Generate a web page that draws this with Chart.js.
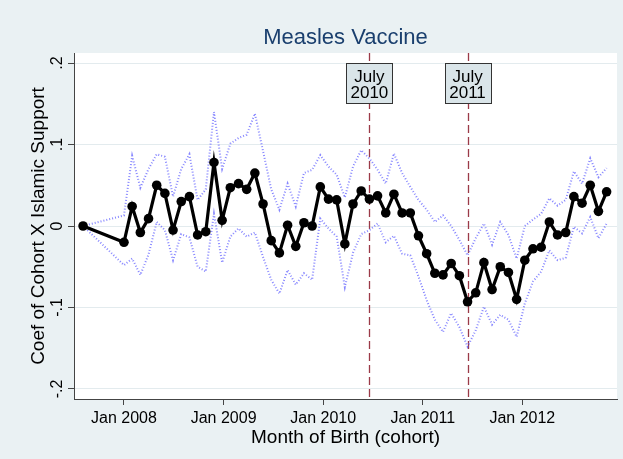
<!DOCTYPE html>
<html>
<head>
<meta charset="utf-8">
<script src="https://cdn.jsdelivr.net/npm/chart.js@4/dist/chart.umd.min.js"></script>
<style>
  html, body { margin: 0; padding: 0; background: #eaf1f3; }
  #wrap { width: 623px; height: 459px; position: relative; }
</style>
</head>
<body>
<div id="wrap"><canvas id="c" width="623" height="459"></canvas></div>
<script>
// Birth cohorts (year m month); the first one is the omitted reference month
const cohorts = [
  "2007m8",
  "2008m1","2008m2","2008m3","2008m4","2008m5","2008m6","2008m7","2008m8","2008m9","2008m10","2008m11","2008m12",
  "2009m1","2009m2","2009m3","2009m4","2009m5","2009m6","2009m7","2009m8","2009m9","2009m10","2009m11","2009m12",
  "2010m1","2010m2","2010m3","2010m4","2010m5","2010m6","2010m7","2010m8","2010m9","2010m10","2010m11","2010m12",
  "2011m1","2011m2","2011m3","2011m4","2011m5","2011m6","2011m7","2011m8","2011m9","2011m10","2011m11","2011m12",
  "2012m1","2012m2","2012m3","2012m4","2012m5","2012m6","2012m7","2012m8","2012m9","2012m10","2012m11","2012m12"
];

// Coefficient on cohort x Islamic support
const coef = [
  0,
  -0.020, 0.024, -0.008, 0.009, 0.050, 0.040, -0.005, 0.030, 0.036, -0.011, -0.007, 0.078,
  0.007, 0.047, 0.052, 0.045, 0.065, 0.027, -0.018, -0.033, 0.001, -0.025, 0.004, 0.000,
  0.048, 0.033, 0.032, -0.022, 0.027, 0.043, 0.033, 0.037, 0.016, 0.039, 0.016, 0.016,
  -0.012, -0.034, -0.058, -0.060, -0.046, -0.061, -0.093, -0.082, -0.045, -0.078, -0.050, -0.057,
  -0.090, -0.042, -0.028, -0.026, 0.005, -0.011, -0.008, 0.036, 0.028, 0.050, 0.018, 0.042
];

// Upper bound of the confidence interval
const ciUpper = [
  0,
  0.013, 0.086, 0.047, 0.070, 0.088, 0.085, 0.036, 0.070, 0.088, 0.032, 0.045, 0.140,
  0.070, 0.101, 0.108, 0.112, 0.138, 0.092, 0.045, 0.020, 0.052, 0.024, 0.065, 0.069,
  0.087, 0.073, 0.063, 0.035, 0.073, 0.093, 0.083, 0.069, 0.052, 0.089, 0.065, 0.048,
  0.032, 0.020, 0.005, 0.013, 0.000, -0.017, -0.036, -0.015, 0.003, -0.023, 0.005, -0.011,
  -0.040, 0.000, 0.008, 0.015, 0.034, 0.025, 0.032, 0.067, 0.052, 0.083, 0.060, 0.071
];

// Lower bound of the confidence interval
const ciLower = [
  0,
  -0.048, -0.040, -0.060, -0.035, 0.005, -0.005, -0.042, -0.010, -0.014, -0.050, -0.056, 0.015,
  -0.045, -0.013, -0.003, -0.013, -0.008, -0.038, -0.066, -0.083, -0.054, -0.072, -0.058, -0.066,
  0.009, -0.003, -0.013, -0.075, -0.033, -0.010, -0.005, 0.003, -0.020, -0.012, -0.034, -0.036,
  -0.062, -0.091, -0.115, -0.130, -0.107, -0.124, -0.148, -0.128, -0.099, -0.121, -0.109, -0.115,
  -0.136, -0.095, -0.068, -0.056, -0.030, -0.042, -0.039, -0.001, -0.009, 0.011, -0.015, 0.003
];

// Axis ticks
const yTicks = [-0.2, -0.1, 0, 0.1, 0.2];
const yTickLabels = ["-.2", "-.1", "0", ".1", ".2"];
const xTickPos = [0, 12.18, 24.35, 36.53, 48.7];
const xTickLabels = ["Jan 2008", "Jan 2009", "Jan 2010", "Jan 2011", "Jan 2012"];

// Reference events marked with vertical lines
const eventCohorts = ["2010m7", "2011m7"];
const eventLabels = [["July", "2010"], ["July", "2011"]];

const chartTitle = "Measles Vaccine";

const FONT = '"Liberation Sans", Arial, Helvetica, sans-serif';

// months since January 2008
function monthIndex(c) {
  const [y, m] = c.split("m").map(Number);
  return (y - 2008) * 12 + (m - 1);
}

const toPoints = arr => cohorts.map((c, i) => ({ x: monthIndex(c), y: arr[i] }));

const backgroundPlugin = {
  id: 'panels',
  beforeDraw(chart) {
    const { ctx, chartArea: a } = chart;
    ctx.save();
    ctx.fillStyle = '#eaf1f3';
    ctx.fillRect(0, 0, chart.width, chart.height);
    ctx.fillStyle = '#ffffff';
    ctx.fillRect(a.left, a.top, a.right - a.left, a.bottom - a.top);
    ctx.restore();
  },
  afterDraw(chart) {
    // title centred over the plot region
    const { ctx, chartArea: a } = chart;
    ctx.save();
    ctx.fillStyle = '#1a3f6e';
    ctx.font = '22px ' + FONT;
    ctx.textAlign = 'center';
    ctx.textBaseline = 'middle';
    ctx.fillText(chartTitle, (a.left + a.right) / 2, 38);
    ctx.restore();
  }
};

const eventLinePlugin = {
  id: 'eventLines',
  beforeDatasetsDraw(chart) {
    const { ctx, chartArea: a, scales: { x } } = chart;
    ctx.save();
    ctx.strokeStyle = '#9b3a48';
    ctx.lineWidth = 1.3;
    ctx.setLineDash([8, 4]);
    eventCohorts.forEach(c => {
      const px = Math.round(x.getPixelForValue(monthIndex(c))) + 0.5;
      ctx.beginPath();
      ctx.moveTo(px, a.top);
      ctx.lineTo(px, a.bottom);
      ctx.stroke();
    });
    ctx.restore();
  },
  afterDatasetsDraw(chart) {
    const { ctx, chartArea: a, scales: { x } } = chart;
    ctx.save();
    eventCohorts.forEach((c, i) => {
      const px = x.getPixelForValue(monthIndex(c));
      const w = 46, h = 40, top = a.top + 10.5;
      const left = Math.round(px - w / 2) + 0.5;
      ctx.fillStyle = '#dae5e9';
      ctx.fillRect(left, top, w, h);
      ctx.strokeStyle = '#333333';
      ctx.lineWidth = 1;
      ctx.strokeRect(left, top, w, h);
      ctx.fillStyle = '#000000';
      ctx.font = '17px ' + FONT;
      ctx.textAlign = 'center';
      ctx.textBaseline = 'middle';
      ctx.fillText(eventLabels[i][0], px, top + 13.5);
      ctx.fillText(eventLabels[i][1], px, top + 29.5);
    });
    ctx.restore();
  },
  afterDraw(chart) {
    // vertical y tick labels
    const { ctx, scales: { y } } = chart;
    ctx.save();
    ctx.fillStyle = '#000000';
    ctx.font = '16px ' + FONT;
    ctx.textAlign = 'center';
    ctx.textBaseline = 'middle';
    yTicks.forEach((v, i) => {
      const py = y.getPixelForValue(v);
      ctx.save();
      ctx.translate(58, py);
      ctx.rotate(-Math.PI / 2);
      ctx.fillText(yTickLabels[i], 0, 0);
      ctx.restore();
    });
    ctx.restore();
  }
};

new Chart(document.getElementById('c'), {
  type: 'line',
  data: {
    datasets: [
      {
        label: 'Coefficient',
        data: toPoints(coef),
        borderColor: '#000000',
        backgroundColor: '#000000',
        borderWidth: 3.2,
        pointRadius: 4.8,
        pointBorderWidth: 0,
        pointBackgroundColor: '#000000',
        tension: 0
      },
      {
        label: 'Upper CI',
        data: toPoints(ciUpper),
        borderColor: 'rgba(95,95,255,0.75)',
        borderWidth: 2,
        borderDash: [1, 2],
        pointRadius: 0,
        tension: 0
      },
      {
        label: 'Lower CI',
        data: toPoints(ciLower),
        borderColor: 'rgba(95,95,255,0.75)',
        borderWidth: 2,
        borderDash: [1, 2],
        pointRadius: 0,
        tension: 0
      }
    ]
  },
  options: {
    responsive: false,
    animation: false,
    devicePixelRatio: 1,
    layout: { padding: { left: 0, right: 6, top: 53, bottom: 0 } },
    plugins: {
      legend: { display: false },
      tooltip: { enabled: false },
      title: { display: false }
    },
    scales: {
      x: {
        type: 'linear',
        min: -6.11,
        max: 60.27,
        afterBuildTicks(scale) { scale.ticks = xTickPos.map(v => ({ value: v })); },
        afterFit(scale) { scale.height = 60; },
        ticks: {
          autoSkip: false,
          maxRotation: 0,
          minRotation: 0,
          padding: 4,
          color: '#000000',
          font: { family: FONT, size: 16 },
          callback: (v, i) => xTickLabels[i]
        },
        grid: {
          drawOnChartArea: false,
          drawTicks: true,
          tickLength: 6,
          tickColor: '#444444',
          tickWidth: 1
        },
        border: { display: true, color: '#444444', width: 1 },
        title: {
          display: true,
          text: 'Month of Birth (cohort)',
          color: '#000000',
          font: { family: FONT, size: 19 },
          padding: { top: 0, bottom: 10 }
        }
      },
      y: {
        type: 'linear',
        min: -0.2123,
        max: 0.2123,
        afterBuildTicks(scale) { scale.ticks = yTicks.map(v => ({ value: v })); },
        afterFit(scale) { scale.width = 74; },
        ticks: { display: false },
        grid: {
          color: '#e3ebee',
          lineWidth: 1,
          drawTicks: true,
          tickLength: 6,
          tickColor: '#444444',
          tickWidth: 1
        },
        border: { display: true, color: '#444444', width: 1 },
        title: {
          display: true,
          text: 'Coef of Cohort X Islamic Support',
          color: '#000000',
          font: { family: FONT, size: 19 },
          padding: { top: 27, bottom: 0 }
        }
      }
    }
  },
  plugins: [backgroundPlugin, eventLinePlugin]
});
</script>
</body>
</html>
